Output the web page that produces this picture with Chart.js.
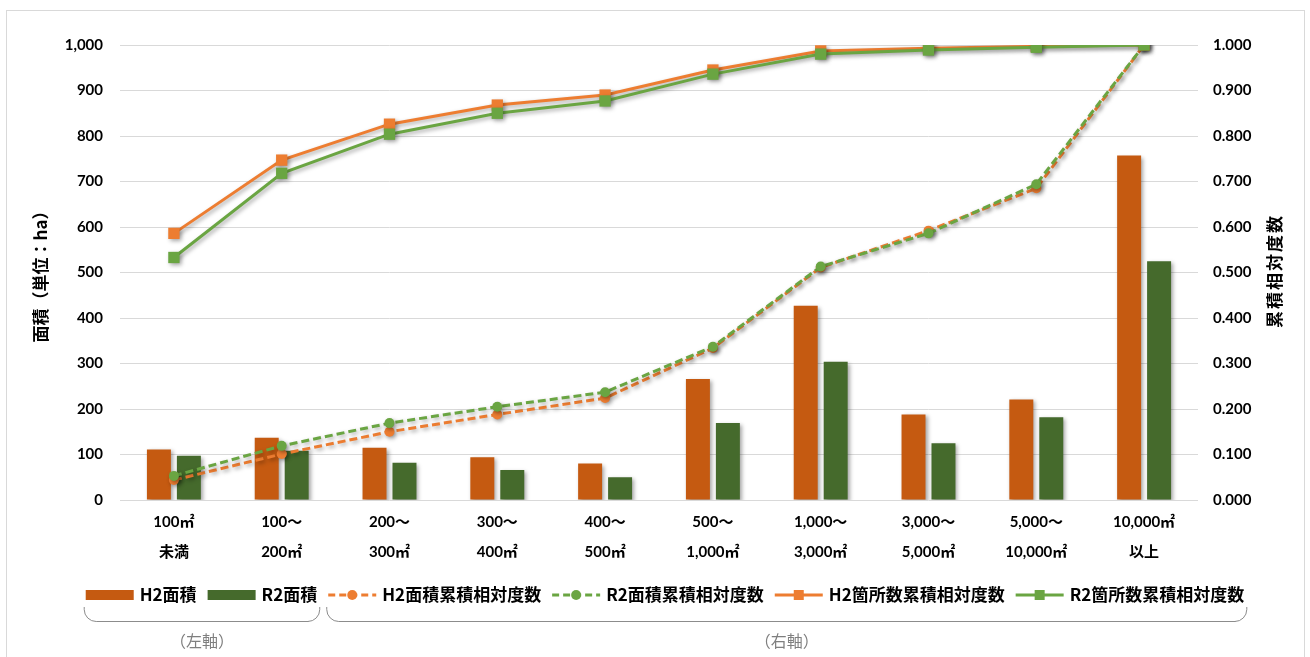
<!DOCTYPE html>
<html lang="ja">
  <head>
    <meta charset="UTF-8" />
    <title>面積・累積相対度数</title>
    <style>
      html, body { margin: 0; padding: 0; background: #fff; }
      #wrap { width: 1310px; height: 657px; }
    </style>
  </head>
  <body>
    <div id="wrap"><canvas id="chart" width="1310" height="657"></canvas></div>
    <script src="https://cdn.jsdelivr.net/npm/chart.js@4.4.0/dist/chart.umd.min.js"></script>
    <script>
      // categories (two-line labels)
      const categories = [
        ["100㎡", "未満"],
        ["100～", "200㎡"],
        ["200～", "300㎡"],
        ["300～", "400㎡"],
        ["400～", "500㎡"],
        ["500～", "1,000㎡"],
        ["1,000～", "3,000㎡"],
        ["3,000～", "5,000㎡"],
        ["5,000～", "10,000㎡"],
        ["10,000㎡", "以上"],
      ];
      // left axis (ha)
      const h2Area = [111, 137, 115, 94, 80, 266, 427, 188, 221, 757];
      const r2Area = [97, 108, 82, 66, 50, 169, 304, 125, 182, 525];
      // right axis (cumulative relative frequency)
      const h2AreaCum = [0.044, 0.101, 0.150, 0.188, 0.224, 0.334, 0.511, 0.592, 0.685, 1.0];
      const r2AreaCum = [0.053, 0.119, 0.169, 0.205, 0.237, 0.337, 0.513, 0.586, 0.694, 1.0];
      const h2CountCum = [0.586, 0.747, 0.826, 0.868, 0.890, 0.945, 0.987, 0.993, 0.997, 1.0];
      const r2CountCum = [0.533, 0.718, 0.804, 0.850, 0.877, 0.936, 0.980, 0.989, 0.995, 1.0];

      const leftTicks = [0, 1000, 100];
      const rightTicks = [0, 1, 0.1];

      const ORANGE_BAR = "#c55a11";
      const GREEN_BAR = "#456a2c";
      const ORANGE = "#ed7d31";
      const GREEN = "#6aa542";

      const numFont = 'Lato, "Noto Sans CJK JP", sans-serif';
      const jpFont = '"Noto Sans CJK JP", sans-serif';

      const legendItems = [
        { text: "H2面積", kind: "bar", color: ORANGE_BAR },
        { text: "R2面積", kind: "bar", color: GREEN_BAR },
        { text: "H2面積累積相対度数", kind: "dash", color: ORANGE },
        { text: "R2面積累積相対度数", kind: "dash", color: GREEN },
        { text: "H2箇所数累積相対度数", kind: "line", color: ORANGE },
        { text: "R2箇所数累積相対度数", kind: "line", color: GREEN },
      ];

      // soft drop shadow like the office chart
      const shadowPlugin = {
        id: "shadow",
        beforeDatasetDraw(chart) {
          const ctx = chart.ctx;
          ctx.save();
          ctx.shadowColor = "rgba(0,0,0,0.35)";
          ctx.shadowBlur = 4;
          ctx.shadowOffsetX = 2;
          ctx.shadowOffsetY = 2;
        },
        afterDatasetDraw(chart) {
          chart.ctx.restore();
        },
      };

      const extrasPlugin = {
        id: "extras",
        beforeDraw(chart) {
          const ctx = chart.ctx;
          ctx.save();
          ctx.fillStyle = "#fff";
          ctx.fillRect(0, 0, chart.width, chart.height);
          ctx.strokeStyle = "#d9d9d9";
          ctx.lineWidth = 1;
          ctx.strokeRect(6.5, 10.5, 1298, 700);
          ctx.restore();
        },
        afterDraw(chart) {
          const ctx = chart.ctx;
          ctx.save();
          // right axis title, reads bottom to top
          ctx.translate(1275, 271);
          ctx.rotate(-Math.PI / 2);
          ctx.font = "bold 17px " + jpFont;
          ctx.letterSpacing = "2px";
          ctx.fillStyle = "#000";
          ctx.textAlign = "center";
          ctx.textBaseline = "middle";
          ctx.fillText("累積相対度数", 0, 0);
          ctx.restore();

          // legend
          ctx.save();
          ctx.font = "bold 17px " + jpFont;
          ctx.textBaseline = "middle";
          const markW = 48, gapT = 6, gapI = 11, cy = 595;
          let total = 0;
          const widths = legendItems.map((it) => ctx.measureText(it.text).width);
          widths.forEach((w) => (total += markW + gapT + w));
          total += gapI * (legendItems.length - 1);
          let x = 665 - total / 2;
          const spans = [];
          legendItems.forEach((it, i) => {
            const x0 = x;
            if (it.kind === "bar") {
              ctx.fillStyle = it.color;
              ctx.fillRect(x, cy - 5, markW, 10);
            } else {
              ctx.strokeStyle = it.color;
              ctx.fillStyle = it.color;
              ctx.lineWidth = 3;
              ctx.setLineDash(it.kind === "dash" ? [7, 4] : []);
              ctx.beginPath();
              ctx.moveTo(x, cy);
              ctx.lineTo(x + markW, cy);
              ctx.stroke();
              ctx.setLineDash([]);
              if (it.kind === "dash") {
                ctx.beginPath();
                ctx.arc(x + markW / 2, cy, 5, 0, Math.PI * 2);
                ctx.fill();
              } else {
                ctx.fillRect(x + markW / 2 - 5, cy - 5, 10, 10);
              }
            }
            ctx.fillStyle = "#000";
            ctx.fillText(it.text, x + markW + gapT, cy);
            x += markW + gapT + widths[i];
            spans.push([x0, x]);
            x += gapI;
          });

          // brackets for axis notes
          const groups = [
            { from: 0, to: 1, label: "（左軸）" },
            { from: 2, to: 5, label: "（右軸）" },
          ];
          ctx.strokeStyle = "#8c8c8c";
          ctx.lineWidth = 1;
          ctx.fillStyle = "#7f7f7f";
          ctx.font = "16px " + jpFont;
          ctx.textAlign = "center";
          groups.forEach((g) => {
            const x0 = spans[g.from][0] - 2;
            const x1 = spans[g.to][1] + 3;
            const yT = 607, yB = 621, r = 12;
            ctx.beginPath();
            ctx.moveTo(x0 + 0.5, yT);
            ctx.arcTo(x0 + 0.5, yB + 0.5, x0 + r, yB + 0.5, r);
            ctx.lineTo(x1 - r, yB + 0.5);
            ctx.arcTo(x1 - 0.5, yB + 0.5, x1 - 0.5, yT, r);
            ctx.lineTo(x1 - 0.5, yT);
            ctx.stroke();
            ctx.fillText(g.label, (x0 + x1) / 2, 641);
          });
          ctx.restore();
        },
      };

      const data = {
        labels: categories,
        datasets: [
          {
            type: "line",
            label: "R2箇所数累積相対度数",
            data: r2CountCum,
            yAxisID: "y1",
            borderColor: GREEN,
            backgroundColor: GREEN,
            borderWidth: 3,
            pointStyle: "rect",
            pointRadius: 8,
            pointBorderWidth: 0,
            order: 1,
          },
          {
            type: "line",
            label: "H2箇所数累積相対度数",
            data: h2CountCum,
            yAxisID: "y1",
            borderColor: ORANGE,
            backgroundColor: ORANGE,
            borderWidth: 3,
            pointStyle: "rect",
            pointRadius: 8,
            pointBorderWidth: 0,
            order: 2,
          },
          {
            type: "line",
            label: "R2面積累積相対度数",
            data: r2AreaCum,
            yAxisID: "y1",
            borderColor: GREEN,
            backgroundColor: GREEN,
            borderWidth: 3,
            borderDash: [8, 4],
            pointStyle: "circle",
            pointRadius: 5,
            pointBorderWidth: 0,
            order: 3,
          },
          {
            type: "line",
            label: "H2面積累積相対度数",
            data: h2AreaCum,
            yAxisID: "y1",
            borderColor: ORANGE,
            backgroundColor: ORANGE,
            borderWidth: 3,
            borderDash: [8, 4],
            pointStyle: "circle",
            pointRadius: 5,
            pointBorderWidth: 0,
            order: 4,
          },
          {
            type: "bar",
            label: "H2面積",
            data: h2Area,
            yAxisID: "y",
            backgroundColor: ORANGE_BAR,
            barPercentage: 0.8,
            categoryPercentage: 0.556,
            order: 10,
          },
          {
            type: "bar",
            label: "R2面積",
            data: r2Area,
            yAxisID: "y",
            backgroundColor: GREEN_BAR,
            barPercentage: 0.8,
            categoryPercentage: 0.556,
            order: 11,
          },
        ],
      };

      const config = {
        type: "bar",
        data: data,
        plugins: [extrasPlugin, shadowPlugin],
        options: {
          responsive: false,
          animation: false,
          layout: { padding: { left: 0, right: 0, top: 45, bottom: 87 } },
          plugins: {
            legend: { display: false },
            tooltip: { enabled: false },
          },
          scales: {
            x: {
              grid: { display: false, drawTicks: false },
              border: { display: false },
              ticks: {
                autoSkip: false,
                maxRotation: 0,
                padding: 7,
                color: "#000",
                font: { family: numFont, size: 15, weight: "bold", lineHeight: 2 },
              },
              afterFit(s) { s.height = 70; },
            },
            y: {
              position: "left",
              min: leftTicks[0],
              max: leftTicks[1],
              ticks: {
                stepSize: leftTicks[2],
                padding: 17,
                color: "#000",
                font: { family: numFont, size: 15, weight: "bold" },
                callback: (v) => v.toLocaleString("en-US"),
              },
              grid: { color: "#d9d9d9", lineWidth: 1, drawTicks: false },
              border: { display: false },
              title: {
                display: true,
                text: "面積（単位：ha）",
                color: "#000",
                font: { family: jpFont, size: 17, weight: "bold" },
                padding: { top: 30, bottom: 0 },
              },
              afterFit(s) { s.width = 120; },
            },
            y1: {
              position: "right",
              min: rightTicks[0],
              max: rightTicks[1],
              ticks: {
                stepSize: rightTicks[2],
                padding: 15,
                color: "#000",
                font: { family: numFont, size: 15, weight: "bold" },
                callback: (v) => v.toFixed(3),
              },
              grid: { drawOnChartArea: false, drawTicks: false },
              border: { display: false },
              afterFit(s) { s.width = 112; },
            },
          },
        },
      };

      new Chart(document.getElementById("chart"), config);
    </script>
  </body>
</html>
